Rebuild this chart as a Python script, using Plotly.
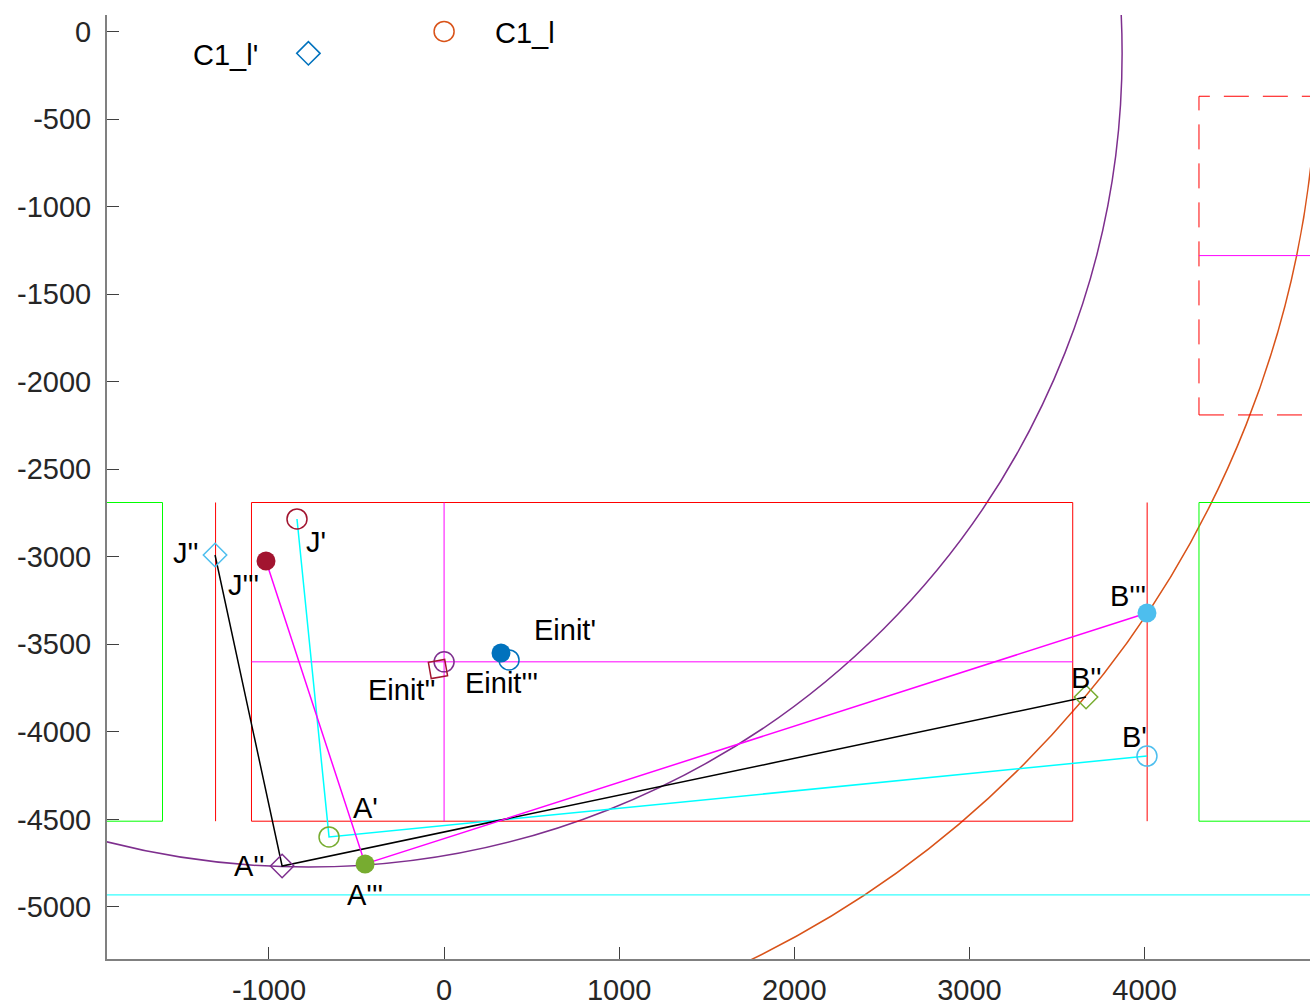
import plotly.graph_objects as go

# ---------------- data ----------------
# circle centre (C1_l') and C1_l point
c1_lp_x, c1_lp_y = -775, -125
c1_l_x, c1_l_y = 0, 0
r_purple = 4647
r_orange = 5760

# trajectories J -> A -> B
cyan_x = [-840, -657, 4014]
cyan_y = [-2784, -4600, -4138]
black_x = [-1308, -925, 3666]
black_y = [-2990, -4766, -3801]
mag_x = [-1017, -451, 4014]
mag_y = [-3024, -4754, -3321]

# Einit points
einit_blue_fill = (325, -3549)
einit_blue_open = (371, -3589)
einit_purple_open = (0, -3600)
einit_red_diamond = (-35, -3641)

# rectangles / reference lines
rect_x = [-1100, 3590]
rect_y = [-4510, -2690]
red_vlines_x = [-1305, 4015]
green_left_x = [-2600, -1608]
green_right_x = [4311, 5600]
dash_rect_x = [4311, 9000]
dash_rect_y = [-2190, -370]
dash_mid_y = -1280
cyan_h_y = -4931

# labels
lab_text = ["C1_l'", "C1_l", "J'", "J''", "J'''", "Einit''", "Einit'''", "Einit'",
            "A'", "A''", "A'''", "B'", "B''", "B'''"]
lab_x = [-1246, 461, -732, -1474, -1148, -240, 326, 691, -446, -1114, -452, 3940, 3666, 3906]
lab_y = [-134, -9, -2915, -2978, -3161, -3761, -3721, -3418, -4435, -4766, -4931, -4029, -3692, -3224]

xrange_ = [-1925, 4945]
yrange_ = [-5297, 94]
xticks = [-1000, 0, 1000, 2000, 3000, 4000]
yticks = [0, -500, -1000, -1500, -2000, -2500, -3000, -3500, -4000, -4500, -5000]

BLUE = "#0072BD"; ORANGE = "#D95319"; PURPLE = "#7E2F8E"; GREEN = "#77AC30"
LBLUE = "#4DBEEE"; DRED = "#A2142F"
FONT = "Liberation Sans, Arial, sans-serif"

fig = go.Figure()

def seg(xs, ys, color, width=1.0, dash=None):
    fig.add_trace(go.Scatter(x=xs, y=ys, mode="lines",
                             line=dict(color=color, width=width, dash=dash),
                             hoverinfo="skip", showlegend=False))

# rectangles
def rect(x0, x1, y0, y1, color, width=1.0, dash=None):
    seg([x0, x1, x1, x0, x0], [y0, y0, y1, y1, y0], color, width, dash)

rect(green_left_x[0], green_left_x[1], rect_y[0], rect_y[1], "#00FF00")
rect(green_right_x[0], green_right_x[1], rect_y[0], rect_y[1], "#00FF00")
rect(rect_x[0], rect_x[1], rect_y[0], rect_y[1], "#FF0000")
for vx in red_vlines_x:
    seg([vx, vx], rect_y, "#FF0000")
seg([0, 0], rect_y, "#FF00FF")
seg(rect_x, [-3600, -3600], "#FF00FF")
rect(dash_rect_x[0], dash_rect_x[1], dash_rect_y[0], dash_rect_y[1], "#FF0000", 1.0, "25px,14px")
seg(dash_rect_x, [dash_mid_y, dash_mid_y], "#FF00FF")
seg([-3000, 7000], [cyan_h_y, cyan_h_y], "#00FFFF")

# circles
for r, col in [(r_purple, PURPLE), (r_orange, ORANGE)]:
    fig.add_shape(type="circle", xref="x", yref="y",
                  x0=c1_lp_x - r, x1=c1_lp_x + r, y0=c1_lp_y - r, y1=c1_lp_y + r,
                  line=dict(color=col, width=1.5), layer="below")

# trajectories
seg(cyan_x, cyan_y, "#00FFFF", 1.5)
seg(black_x, black_y, "#000000", 1.5)
seg(mag_x, mag_y, "#FF00FF", 1.5)

def mk(x, y, symbol, color, size=20, filled=False, angle=0):
    fig.add_trace(go.Scatter(
        x=[x], y=[y], mode="markers", hoverinfo="skip", showlegend=False,
        marker=dict(symbol=symbol, size=size, angle=angle,
                    color=color if filled else "rgba(0,0,0,0)",
                    line=dict(color=color, width=1.5 if not filled else 0))))

# J points
mk(cyan_x[0], cyan_y[0], "circle", DRED)
mk(black_x[0], black_y[0], "diamond", LBLUE, 18)
mk(mag_x[0], mag_y[0], "circle", DRED, 19, True)
# A points
mk(cyan_x[1], cyan_y[1], "circle", GREEN)
mk(black_x[1], black_y[1], "diamond", PURPLE, 18)
mk(mag_x[1], mag_y[1], "circle", GREEN, 19, True)
# B points
mk(cyan_x[2], cyan_y[2], "circle", LBLUE)
mk(black_x[2], black_y[2], "diamond", GREEN, 18)
mk(mag_x[2], mag_y[2], "circle", LBLUE, 19, True)
# Einit points
mk(*einit_purple_open, "circle", PURPLE)
mk(*einit_red_diamond, "diamond", DRED, 18, angle=35)
mk(*einit_blue_open, "circle", BLUE)
mk(*einit_blue_fill, "circle", BLUE, 19, True)
# centres
mk(c1_lp_x, c1_lp_y, "diamond", BLUE, 18)
mk(c1_l_x, c1_l_y, "circle", ORANGE)

for t, x, y in zip(lab_text, lab_x, lab_y):
    fig.add_annotation(x=x, y=y, text=t, showarrow=False, xanchor="center", yanchor="middle",
                       font=dict(family=FONT, size=29, color="#000000"))

axis_common = dict(showgrid=False, zeroline=False, showline=True, linecolor="#808080",
                   linewidth=2, ticks="inside", ticklen=12, tickcolor="#404040", tickwidth=1,
                   automargin=False,
                   tickfont=dict(family=FONT, size=29, color="#262626"))
fig.update_xaxes(range=xrange_, tickvals=xticks, ticktext=[str(v) for v in xticks],
                 ticklabelstandoff=4, **axis_common)
fig.update_yaxes(range=yrange_, tickvals=yticks, ticktext=[str(v) for v in yticks],
                 ticklabelstandoff=8, **axis_common)

fig.update_layout(width=1310, height=1006, margin=dict(l=107, r=0, t=15, b=47),
                  plot_bgcolor="white", paper_bgcolor="white", showlegend=False)

fig.write_html("out.html", config={"displayModeBar": False},
               post_script="document.body.style.margin='0';")
